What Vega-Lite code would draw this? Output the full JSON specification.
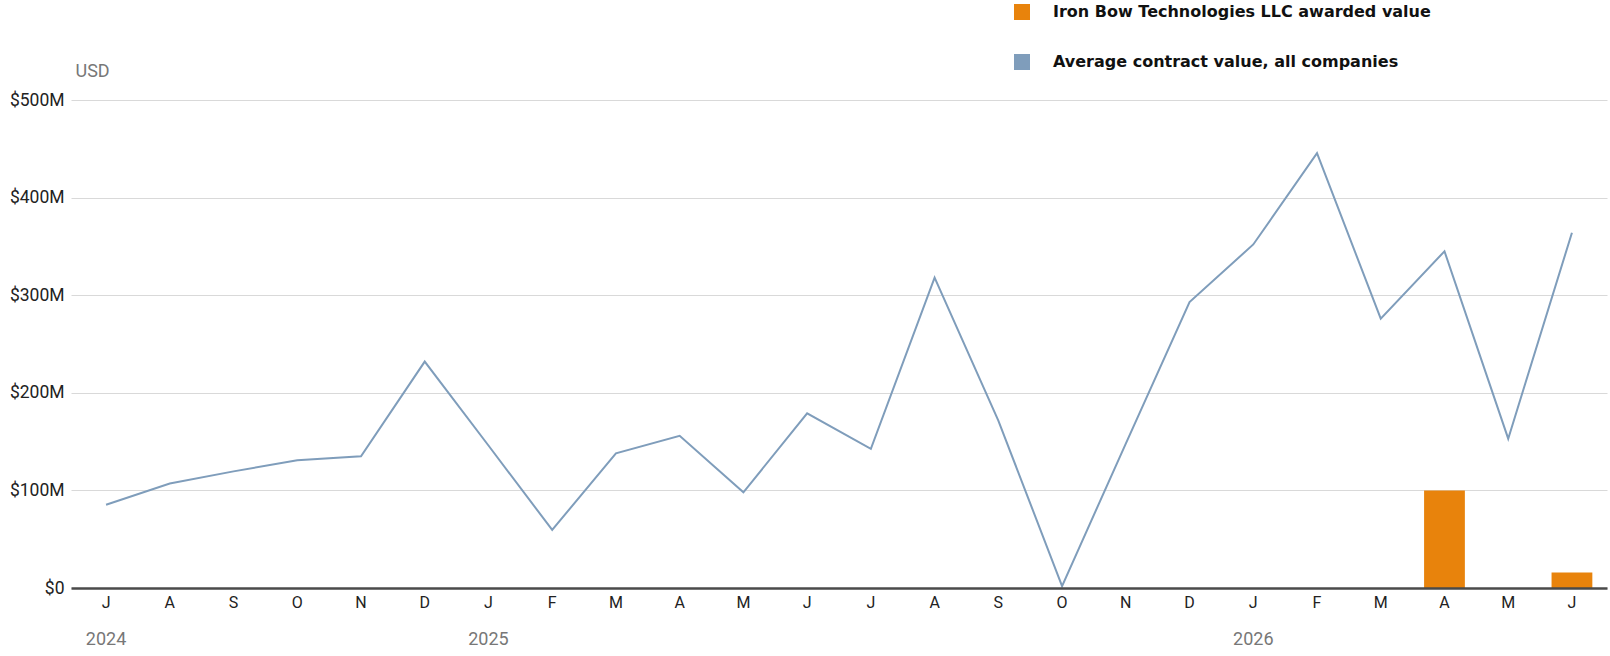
{
  "$schema": "https://vega.github.io/schema/vega-lite/v6.json",
  "width": 1536,
  "height": 488,
  "autosize": {"type": "none"},
  "padding": {"left": 71, "top": 100, "right": 3, "bottom": 68},
  "background": "white",
  "config": {"view": {"stroke": null}, "font": "Roboto"},
  "data": {
    "values": [
      {"month": "2024-07", "avg": 85.3, "ironbow": null},
      {"month": "2024-08", "avg": 107, "ironbow": null},
      {"month": "2024-09", "avg": 119.5, "ironbow": null},
      {"month": "2024-10", "avg": 131, "ironbow": null},
      {"month": "2024-11", "avg": 135, "ironbow": null},
      {"month": "2024-12", "avg": 232, "ironbow": null},
      {"month": "2025-01", "avg": 146, "ironbow": null},
      {"month": "2025-02", "avg": 59.5, "ironbow": null},
      {"month": "2025-03", "avg": 138, "ironbow": null},
      {"month": "2025-04", "avg": 156, "ironbow": null},
      {"month": "2025-05", "avg": 98, "ironbow": null},
      {"month": "2025-06", "avg": 179, "ironbow": null},
      {"month": "2025-07", "avg": 142.5, "ironbow": null},
      {"month": "2025-08", "avg": 318, "ironbow": null},
      {"month": "2025-09", "avg": 171.5, "ironbow": null},
      {"month": "2025-10", "avg": 2, "ironbow": null},
      {"month": "2025-11", "avg": 148, "ironbow": null},
      {"month": "2025-12", "avg": 293, "ironbow": null},
      {"month": "2026-01", "avg": 352, "ironbow": null},
      {"month": "2026-02", "avg": 445.5, "ironbow": null},
      {"month": "2026-03", "avg": 276, "ironbow": null},
      {"month": "2026-04", "avg": 345, "ironbow": 100},
      {"month": "2026-05", "avg": 153, "ironbow": null},
      {"month": "2026-06", "avg": 364, "ironbow": 16}
    ]
  },
  "layer": [
    {
      "mark": {"type": "bar"},
      "encoding": {
        "x": {
          "field": "month", "type": "ordinal",
          "scale": {"type": "band", "paddingInner": 0.36, "paddingOuter": 0.23},
          "axis": {
            "title": null, "orient": "bottom", "zindex": 1,
            "labelExpr": "['J','F','M','A','M','J','J','A','S','O','N','D'][toNumber(slice(datum.value,5,7))-1]",
            "ticks": false, "domainColor": "#4a4a4a", "domainWidth": 2.5,
            "labelPadding": 6, "labelFontSize": 16, "labelColor": "#222", "labelAngle": 0
          }
        },
        "y": {
          "field": "ironbow", "type": "quantitative",
          "scale": {"domain": [0, 500], "nice": false},
          "axis": {
            "title": "USD", "titleAngle": 0, "titleAlign": "left", "titleBaseline": "alphabetic",
            "titleX": 4, "titleY": -24, "titleFontSize": 18, "titleFontWeight": "normal", "titleColor": "#777",
            "values": [0, 100, 200, 300, 400, 500],
            "labelExpr": "datum.value == 0 ? '$0' : '$' + datum.value + 'M'",
            "domain": false, "ticks": false, "labelPadding": 7, "labelFontSize": 17.5, "labelColor": "#222",
            "grid": true, "gridColor": "#d9d9d9", "gridWidth": 1
          }
        },
        "color": {
          "datum": "Iron Bow Technologies LLC awarded value",
          "scale": {
            "domain": ["Iron Bow Technologies LLC awarded value", "Average contract value, all companies"],
            "range": ["#e8830c", "#7f9dbb"]
          },
          "legend": {
            "title": null, "orient": "none", "legendX": 943, "legendY": -96, "direction": "vertical",
            "symbolType": "square", "symbolSize": 256, "symbolStrokeWidth": 0, "symbolOpacity": 1,
            "labelFont": "DejaVu Sans", "labelFontWeight": "bold", "labelFontSize": 16, "labelColor": "#111",
            "rowPadding": 34, "labelOffset": 23, "padding": 0, "labelLimit": 600
          }
        }
      }
    },
    {
      "mark": {"type": "line", "color": "#7f9dbb", "strokeWidth": 2},
      "encoding": {
        "x": {
          "field": "month", "type": "ordinal",
          "axis": {
            "title": null, "orient": "bottom",
            "labelExpr": "datum.value == '2024-07' || slice(datum.value,5,7) == '01' ? slice(datum.value,0,4) : ''",
            "ticks": false, "domain": false, "grid": false,
            "labelPadding": 42, "labelFontSize": 18, "labelColor": "#777", "labelAngle": 0
          }
        },
        "y": {"field": "avg", "type": "quantitative"}
      }
    }
  ],
  "resolve": {"axis": {"x": "independent"}}
}
